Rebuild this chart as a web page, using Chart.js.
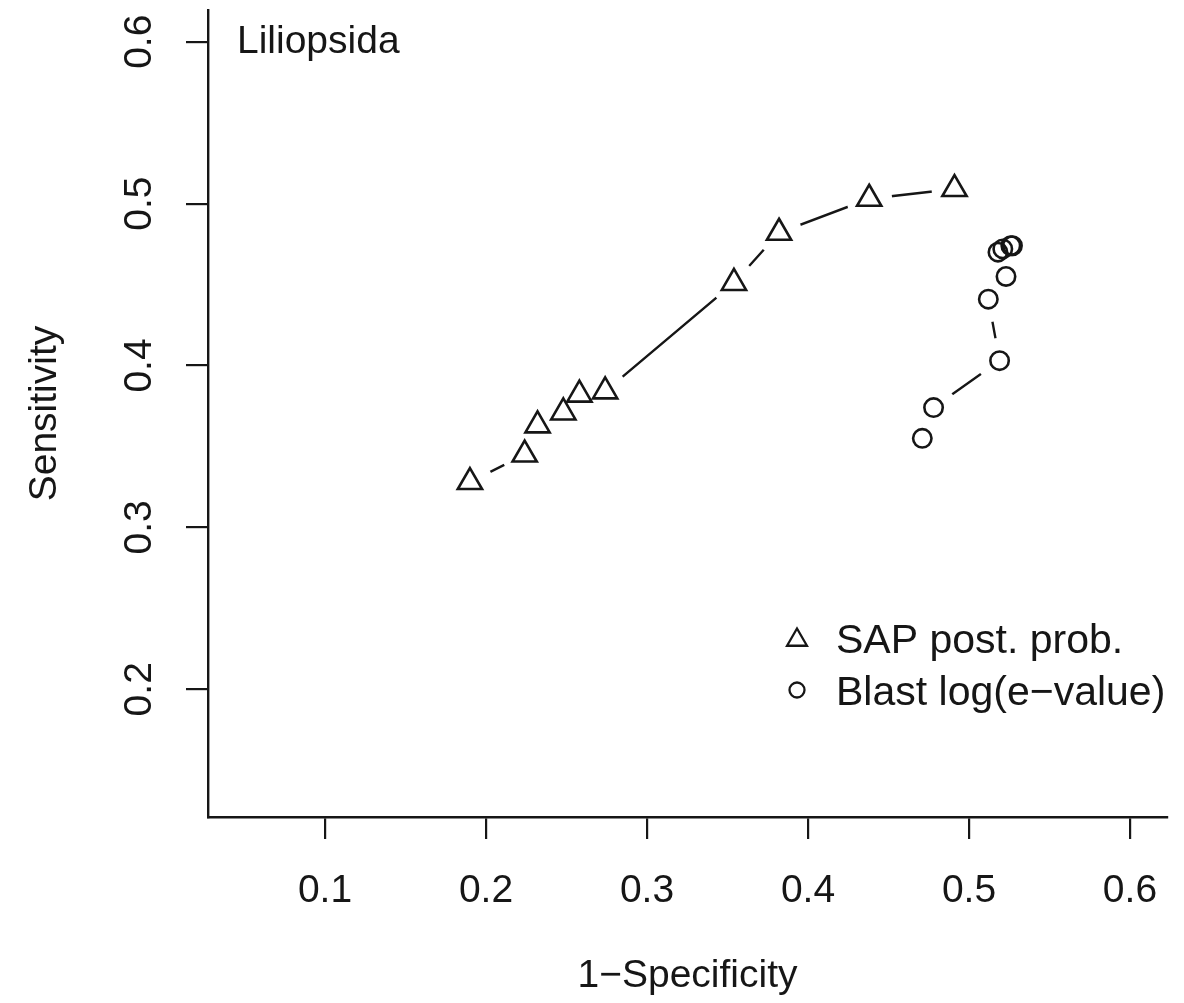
<!DOCTYPE html>
<html>
<head>
<meta charset="utf-8">
<script src="https://cdn.jsdelivr.net/npm/chart.js@4/dist/chart.umd.min.js"></script>
<style>
  html, body { margin: 0; padding: 0; background: #ffffff; }
  #wrap { width: 1184px; height: 1003px; }
</style>
</head>
<body>
<div id="wrap"><canvas id="c" width="1184" height="1003"></canvas></div>
<script>
// ---- data ----
const sapX   = [0.190, 0.224, 0.232, 0.248, 0.258, 0.274, 0.354, 0.382, 0.438, 0.491];
const sapY   = [0.328, 0.345, 0.363, 0.371, 0.382, 0.384, 0.451, 0.482, 0.503, 0.509];
const blastX = [0.471, 0.478, 0.519, 0.512, 0.523, 0.518, 0.521, 0.526, 0.527];
const blastY = [0.355, 0.374, 0.403, 0.441, 0.455, 0.470, 0.472, 0.474, 0.474];
const xTicks = [0.1, 0.2, 0.3, 0.4, 0.5, 0.6];
const xTickLabels = ['0.1', '0.2', '0.3', '0.4', '0.5', '0.6'];
const yTicks = [0.2, 0.3, 0.4, 0.5, 0.6];
const yTickLabels = ['0.2', '0.3', '0.4', '0.5', '0.6'];
const seriesNames = ['SAP post. prob.', 'Blast log(e\u2212value)'];
const panelTitle = 'Liliopsida';
const xTitle = '1\u2212Specificity';
const yTitle = 'Sensitivity';

const FONT = '"Liberation Sans", Arial, Helvetica, sans-serif';
const INK = '#161616';
const toPts = (xs, ys) => xs.map((x, i) => ({ x: x, y: ys[i] }));

const sapPts = toPts(sapX, sapY);
const blastPts = toPts(blastX, blastY);

const overlay = {
  id: 'overlay',
  afterDraw(chart) {
    const ctx = chart.ctx;
    ctx.save();
    ctx.fillStyle = INK;
    ctx.font = '39px ' + FONT;
    ctx.textAlign = 'left';
    ctx.textBaseline = 'alphabetic';
    ctx.fillText(panelTitle, 237, 53);
    // legend
    ctx.strokeStyle = INK;
    ctx.lineWidth = 2.3;
    const sx = 797;
    const r = 11.5, ty = 640;
    ctx.beginPath();
    ctx.moveTo(sx, ty - r);
    ctx.lineTo(sx + Math.sin(2 * Math.PI / 3) * r, ty - Math.cos(2 * Math.PI / 3) * r);
    ctx.lineTo(sx + Math.sin(4 * Math.PI / 3) * r, ty - Math.cos(4 * Math.PI / 3) * r);
    ctx.closePath();
    ctx.stroke();
    ctx.beginPath();
    ctx.arc(sx, 690, 7.5, 0, Math.PI * 2);
    ctx.stroke();
    ctx.font = '41px ' + FONT;
    ctx.fillText(seriesNames[0], 836, 653);
    ctx.fillText(seriesNames[1], 836, 705);
    ctx.restore();
  }
};

new Chart(document.getElementById('c'), {
  type: 'scatter',
  data: {
    datasets: [
      { label: seriesNames[0] + ' line', data: sapPts, showLine: true, pointRadius: 0, borderColor: INK, borderWidth: 2.4, order: 3 },
      { label: seriesNames[1] + ' line', data: blastPts, showLine: true, pointRadius: 0, borderColor: INK, borderWidth: 2.4, order: 3 },
      { label: 'gapA', data: sapPts, showLine: false, pointStyle: 'circle', pointRadius: 23, pointBorderWidth: 0, pointBackgroundColor: '#ffffff', pointBorderColor: '#ffffff', order: 2 },
      { label: 'gapB', data: blastPts, showLine: false, pointStyle: 'circle', pointRadius: 23, pointBorderWidth: 0, pointBackgroundColor: '#ffffff', pointBorderColor: '#ffffff', order: 2 },
      { label: seriesNames[0], data: sapPts, showLine: false, pointStyle: 'triangle', pointRadius: 14, pointBorderWidth: 2.6, pointBorderColor: INK, pointBackgroundColor: 'rgba(0,0,0,0)', order: 1 },
      { label: seriesNames[1], data: blastPts, showLine: false, pointStyle: 'circle', pointRadius: 9.2, pointBorderWidth: 2.6, pointBorderColor: INK, pointBackgroundColor: 'rgba(0,0,0,0)', order: 1 }
    ]
  },
  options: {
    responsive: false,
    animation: false,
    events: [],
    layout: { autoPadding: false, padding: { top: 10, right: 17, left: 0, bottom: 0 } },
    plugins: { legend: { display: false }, tooltip: { enabled: false }, title: { display: false } },
    scales: {
      x: {
        type: 'linear', position: 'bottom',
        min: 0.0273, max: 0.623,
        afterBuildTicks: (s) => { s.ticks = xTicks.map(v => ({ value: v })); },
        afterFit: (s) => { s.height = 186; s.paddingLeft = 0; s.paddingRight = 0; s.paddingTop = 0; s.paddingBottom = 0; },
        ticks: { callback: (v, i) => xTickLabels[i], font: { size: 39, family: FONT }, color: INK, padding: 29, maxRotation: 0, minRotation: 0 },
        grid: { display: true, drawOnChartArea: false, drawTicks: true, tickLength: 22, color: INK, lineWidth: 2.2 },
        border: { display: true, color: INK, width: 2.4 },
        title: { display: true, text: xTitle, font: { size: 39, family: FONT }, color: INK, padding: { top: 0, bottom: 3 } }
      },
      y: {
        type: 'linear', position: 'left',
        min: 0.1211, max: 0.6196,
        afterBuildTicks: (s) => { s.ticks = yTicks.map(v => ({ value: v })); },
        afterFit: (s) => { s.width = 208; s.paddingTop = 0; s.paddingBottom = 0; s.paddingLeft = 0; s.paddingRight = 0; },
        ticks: { callback: (v, i) => yTickLabels[i], font: { size: 39, family: FONT }, color: INK, padding: 19, minRotation: 90, maxRotation: 90, crossAlign: 'center' },
        grid: { display: true, drawOnChartArea: false, drawTicks: true, tickLength: 22, color: INK, lineWidth: 2.2 },
        border: { display: true, color: INK, width: 2.4 },
        title: { display: true, text: yTitle, font: { size: 39, family: FONT }, color: INK, padding: { top: 22, bottom: 0 } }
      }
    }
  },
  plugins: [overlay]
});
</script>
</body>
</html>
